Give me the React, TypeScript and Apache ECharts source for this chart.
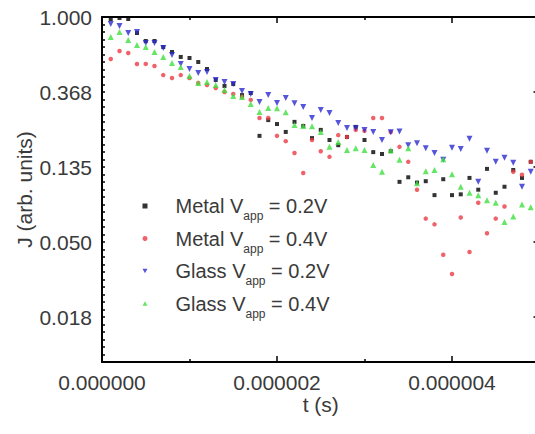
import React, { useEffect, useRef } from 'react';
import * as echarts from 'echarts';

// time in microseconds
const timesUs = [
  0.1, 0.2, 0.3, 0.4, 0.5, 0.6, 0.7, 0.8, 0.9, 1.0,
  1.1, 1.2, 1.3, 1.4, 1.5, 1.6, 1.7, 1.8, 1.9, 2.0,
  2.1, 2.2, 2.3, 2.4, 2.5, 2.6, 2.7, 2.8, 2.9, 3.0,
  3.1, 3.2, 3.3, 3.4, 3.5, 3.6, 3.7, 3.8, 3.9, 4.0,
  4.1, 4.2, 4.3, 4.4, 4.5, 4.6, 4.7, 4.8, 4.9,
];

const metal02 = [
  0.974, 0.987, 0.974, 0.808, 0.726, 0.726, 0.670, 0.627, 0.587, 0.579,
  0.549, 0.500, 0.432, 0.399, 0.409, 0.353, 0.363, 0.205, 0.253, 0.240,
  0.216, 0.247, 0.234, 0.199, 0.222, 0.194, 0.181, 0.202, 0.231, 0.194,
  0.165, 0.161, 0.167, 0.111, 0.118, 0.110, 0.112, 0.093, 0.115, 0.093,
  0.094, 0.117, 0.100, 0.132, 0.096, 0.104, 0.130, 0.117, 0.145,
];

const metal04 = [
  0.571, 0.636, 0.619, 0.534, 0.535, 0.520, 0.461, 0.443, 0.461, 0.443,
  0.415, 0.404, 0.388, 0.368, 0.358, 0.344, 0.331, 0.260, 0.260, 0.205,
  0.191, 0.163, 0.125, 0.194, 0.167, 0.155, 0.207, 0.202, 0.222, 0.219,
  0.260, 0.260, 0.216, 0.177, 0.145, 0.100, 0.068, 0.063, 0.042, 0.0325,
  0.069, 0.0436, 0.084, 0.056, 0.068, 0.080, 0.127, 0.122, 0.145,
];

const glass02 = [
  0.911, 0.887, 0.808, 0.819, 0.707, 0.707, 0.661, 0.603, 0.534, 0.500,
  0.474, 0.480, 0.432, 0.420, 0.409, 0.373, 0.358, 0.322, 0.353, 0.318,
  0.340, 0.317, 0.301, 0.260, 0.289, 0.278, 0.243, 0.228, 0.227, 0.222,
  0.216, 0.194, 0.215, 0.217, 0.181, 0.186, 0.174, 0.163, 0.149, 0.175,
  0.172, 0.197, 0.111, 0.168, 0.145, 0.153, 0.143, 0.104, 0.127,
];

const glass04 = [
  0.766, 0.819, 0.736, 0.689, 0.670, 0.627, 0.587, 0.541, 0.513, 0.455,
  0.415, 0.420, 0.404, 0.378, 0.349, 0.344, 0.313, 0.282, 0.297, 0.296,
  0.281, 0.237, 0.234, 0.233, 0.216, 0.177, 0.189, 0.170, 0.174, 0.170,
  0.139, 0.127, 0.169, 0.149, 0.174, 0.109, 0.128, 0.130, 0.150, 0.123,
  0.104, 0.096, 0.093, 0.087, 0.084, 0.065, 0.070, 0.082, 0.079,
];

// y axis is a natural-log scale; ticks at e^n
const yTickExponents = [0, -1, -2, -3, -4];

const FONT = '"Liberation Sans", Arial, sans-serif';
const TEXT_COLOR = '#3a3a3a';

const seriesDefs = [
  { name: 'Metal V_app = 0.2V', values: metal02, symbol: 'rect', size: 4, color: '#000000' },
  { name: 'Metal V_app = 0.4V', values: metal04, symbol: 'circle', size: 4.5, color: '#ec3b45' },
  { name: 'Glass V_app = 0.2V', values: glass02, symbol: 'path://M0,0 L10,0 L5,9 Z', size: 6, color: '#2a2ad0' },
  { name: 'Glass V_app = 0.4V', values: glass04, symbol: 'path://M5,0 L10,9 L0,9 Z', size: 6, color: '#3fe03f' },
];

export default function App() {
  const ref = useRef<HTMLDivElement>(null);

  useEffect(() => {
    if (!ref.current) return;
    const chart = echarts.init(ref.current, null, { renderer: 'svg' });

    const series = seriesDefs.map((s) => ({
      name: s.name,
      type: 'scatter',
      symbol: s.symbol,
      symbolSize: s.size,
      itemStyle: { color: s.color },
      xAxisIndex: 0,
      yAxisIndex: 0,
      data: s.values.map((j, i) => [timesUs[i] * 1e-6, Math.log(j)]),
    }));

    const commonX = {
      type: 'value',
      min: 0,
      max: 5e-6,
      interval: 2e-6,
      splitLine: { show: false },
    };
    const commonY = {
      type: 'value',
      min: -4.6,
      max: 0,
      interval: 0.2,
      splitLine: { show: false },
    };

    chart.setOption({
      animation: false,
      backgroundColor: '#ffffff',
      grid: { left: 102, top: 17, right: 0.5, bottom: 72, containLabel: false, outerBoundsMode: 'none' },
      legend: {
        orient: 'vertical',
        left: 142.5,
        top: 196,
        padding: 0,
        itemGap: 6.5,
        itemWidth: 5,
        itemHeight: 5,
        selectedMode: false,
        formatter: (name: string) => {
          const [pre, post] = name.split('_app');
          return `{p|${pre}}{s|app}{a|${post}}`;
        },
        textStyle: {
          fontFamily: FONT,
          fontSize: 20,
          color: TEXT_COLOR,
          rich: {
            p: { fontFamily: FONT, fontSize: 20, color: TEXT_COLOR, verticalAlign: 'middle', padding: [0, 0, 0, 23] },
            a: { fontFamily: FONT, fontSize: 20, color: TEXT_COLOR, verticalAlign: 'middle' },
            s: { fontFamily: FONT, fontSize: 12, color: TEXT_COLOR, padding: [20, 0, 0, 0], verticalAlign: 'middle' },
          },
        },
      },
      xAxis: [
        {
          ...commonX,
          position: 'bottom',
          name: 't (s)',
          nameLocation: 'middle',
          nameGap: 32,
          nameMoveOverlap: false,
          nameTextStyle: { fontFamily: FONT, fontSize: 21, color: TEXT_COLOR },
          axisLine: { show: true, onZero: false, lineStyle: { color: '#000', width: 2 } },
          axisTick: { show: true, inside: true, length: 6, lineStyle: { color: '#000', width: 1.5 } },
          minorTick: { show: true, splitNumber: 2, length: 3, lineStyle: { color: '#000', width: 1.5 } },
          axisLabel: {
            margin: 10,
            fontFamily: FONT,
            fontSize: 21,
            color: TEXT_COLOR,
            showMaxLabel: false,
            formatter: (v: number) => v.toFixed(6),
          },
        },
        {
          ...commonX,
          position: 'top',
          axisLine: { show: true, onZero: false, lineStyle: { color: '#000', width: 2 } },
          axisTick: { show: true, inside: true, length: 6, lineStyle: { color: '#000', width: 1.5 } },
          minorTick: { show: true, splitNumber: 2, length: 3, lineStyle: { color: '#000', width: 1.5 } },
          axisLabel: { show: false },
        },
      ],
      yAxis: [
        {
          ...commonY,
          position: 'left',
          name: 'J (arb. units)',
          nameLocation: 'middle',
          nameGap: 67,
          nameMoveOverlap: false,
          nameTextStyle: { fontFamily: FONT, fontSize: 21, color: TEXT_COLOR },
          axisLine: { show: true, onZero: false, lineStyle: { color: '#000', width: 2 } },
          axisTick: { show: true, inside: true, length: 3, lineStyle: { color: '#000', width: 1.5 } },
          minorTick: { show: true, splitNumber: 2, length: 3, lineStyle: { color: '#000', width: 1.5 } },
          axisLabel: {
            margin: 10,
            fontFamily: FONT,
            fontSize: 21,
            color: TEXT_COLOR,
            customValues: yTickExponents,
            formatter: (v: number) => Math.exp(v).toFixed(3),
          },
        },
        {
          ...commonY,
          position: 'right',
          axisLine: { show: true, onZero: false, lineStyle: { color: '#000', width: 2 } },
          axisTick: { show: true, inside: true, length: 6, customValues: yTickExponents, lineStyle: { color: '#000', width: 1.5 } },
          axisLabel: { show: false },
        },
      ],
      series,
    });

    return () => chart.dispose();
  }, []);

  return (
    <div
      ref={ref}
      style={{ position: 'fixed', left: 0, top: 0, width: 540, height: 434, background: '#fff' }}
    />
  );
}
